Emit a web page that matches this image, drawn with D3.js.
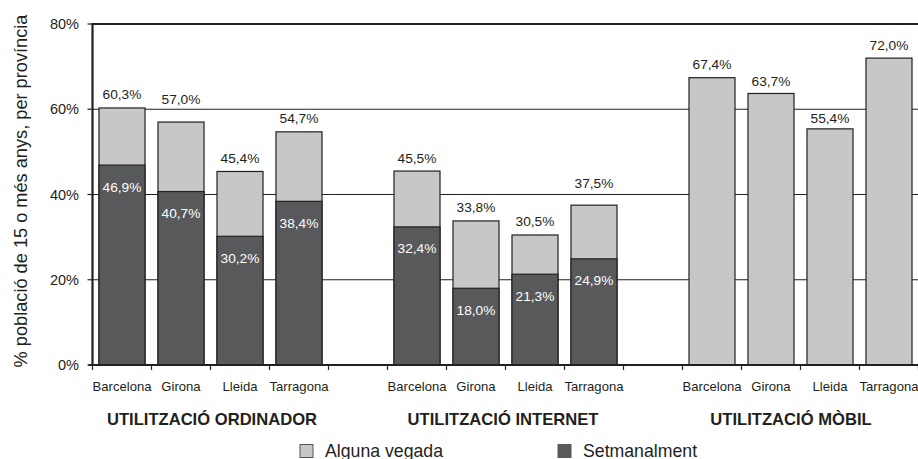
<!DOCTYPE html>
<html>
<head>
<meta charset="utf-8">
<script src="https://cdn.jsdelivr.net/npm/d3@7/dist/d3.min.js"></script>
<style>
  html, body { margin: 0; padding: 0; background: #fff; }
  svg { display: block; font-family: "Liberation Sans", Arial, Helvetica, sans-serif; }
</style>
</head>
<body>
<svg id="chart" width="918" height="459"></svg>
<script>
// ---- data ----
const provinces = ["Barcelona", "Girona", "Lleida", "Tarragona"];
const groups = ["UTILITZACIÓ ORDINADOR", "UTILITZACIÓ INTERNET", "UTILITZACIÓ MÒBIL"];
const algunaVegada = [
  [60.3, 57.0, 45.4, 54.7],   // ordinador
  [45.5, 33.8, 30.5, 37.5],   // internet
  [67.4, 63.7, 55.4, 72.0]    // mòbil
];
const setmanalment = [
  [46.9, 40.7, 30.2, 38.4],
  [32.4, 18.0, 21.3, 24.9],
  null
];
const yTicks = [0, 20, 40, 60, 80];
const yTitle = "% població de 15 o més anys, per província";
const legendLabels = ["Alguna vegada", "Setmanalment"];

// ---- layout ----
const svg = d3.select("#chart");
const pLeft = 92.5, pRight = 918.5, pTop = 24, pBottom = 365;
const LIGHT = "#c6c7c9", DARK = "#58595b", INK = "#231f20";

// slots: 4 bars, gap, 4 bars, gap, 4 bars
const slots = [];
groups.forEach((g, gi) => {
  provinces.forEach((p, pi) => slots.push({ key: gi + "-" + pi, g: gi, p: pi }));
  if (gi < groups.length - 1) slots.push({ key: "gap" + gi, gap: true });
});

const x = d3.scaleBand().domain(slots.map(s => s.key)).range([pLeft, pRight]).paddingInner(0.22).paddingOuter(0.11);
const xs = d3.scaleBand().domain(slots.map(s => s.key)).range([pLeft, pRight]);
const y = d3.scaleLinear().domain([0, 80]).range([pBottom, pTop]);

const fmt = v => d3.format(".1f")(v).replace(".", ",") + "%";

// gridlines
svg.append("g").selectAll("line").data(yTicks.filter(t => t > 0 && t < 80)).join("line")
  .attr("x1", pLeft).attr("x2", pRight)
  .attr("y1", d => y(d)).attr("y2", d => y(d))
  .attr("stroke", INK).attr("stroke-width", 1.1);

// top border
svg.append("line").attr("x1", pLeft).attr("x2", pRight).attr("y1", y(80)).attr("y2", y(80))
  .attr("stroke", INK).attr("stroke-width", 2.2);

// bars
const barData = slots.filter(s => !s.gap);
const bars = svg.append("g");
barData.forEach(s => {
  const tot = algunaVegada[s.g][s.p];
  const wk = setmanalment[s.g] ? setmanalment[s.g][s.p] : null;
  bars.append("rect")
    .attr("x", x(s.key)).attr("width", x.bandwidth())
    .attr("y", y(tot)).attr("height", y(0) - y(tot))
    .attr("fill", LIGHT).attr("stroke", INK).attr("stroke-width", 1.2);
  if (wk !== null) {
    bars.append("rect")
      .attr("x", x(s.key)).attr("width", x.bandwidth())
      .attr("y", y(wk)).attr("height", y(0) - y(wk))
      .attr("fill", DARK).attr("stroke", INK).attr("stroke-width", 1.2);
  }
});

// label lifts (layout nudges only)
const topLift = { "0-1": 10, "1-3": 9, "2-2": -3, "2-1": -1 };

barData.forEach(s => {
  const tot = algunaVegada[s.g][s.p];
  const cx = x(s.key) + x.bandwidth() / 2;
  svg.append("text").attr("x", cx).attr("y", y(tot) - 8.5 - (topLift[s.key] || 0))
    .attr("text-anchor", "middle").attr("font-size", 13.7).attr("fill", INK)
    .text(fmt(tot));
  if (setmanalment[s.g]) {
    const wk = setmanalment[s.g][s.p];
    svg.append("text").attr("x", cx).attr("y", y(wk) + 26.5)
      .attr("text-anchor", "middle").attr("font-size", 13.7).attr("fill", "#ffffff")
      .text(fmt(wk));
  }
});

// axes lines
svg.append("line").attr("x1", pLeft).attr("x2", pLeft).attr("y1", pTop - 1).attr("y2", pBottom + 1)
  .attr("stroke", INK).attr("stroke-width", 2.2);
svg.append("line").attr("x1", pLeft - 4).attr("x2", pRight).attr("y1", pBottom).attr("y2", pBottom)
  .attr("stroke", INK).attr("stroke-width", 2.2);

// y ticks
const yAxis = svg.append("g");
yTicks.forEach(t => {
  yAxis.append("line").attr("x1", pLeft - 5).attr("x2", pLeft).attr("y1", y(t)).attr("y2", y(t))
    .attr("stroke", INK).attr("stroke-width", 1.2);
  yAxis.append("text").attr("x", 79).attr("y", y(t) + 5).attr("text-anchor", "end")
    .attr("font-size", 14.5).attr("fill", INK).text(t + "%");
});

// x ticks at slot boundaries
const bounds = slots.map(s => xs(s.key)).concat([pRight]);
svg.append("g").selectAll("line").data(bounds).join("line")
  .attr("x1", d => d).attr("x2", d => d).attr("y1", pBottom).attr("y2", pBottom + 5)
  .attr("stroke", INK).attr("stroke-width", 1.2);

// x category labels
barData.forEach(s => {
  svg.append("text").attr("x", xs(s.key) + xs.bandwidth() / 2).attr("y", 391)
    .attr("text-anchor", "middle").attr("font-size", 13.1).attr("fill", INK)
    .text(provinces[s.p]);
});

// group labels
const groupNudge = [1.5, -2.5, -9.5];
groups.forEach((g, gi) => {
  const first = xs(gi + "-0"), last = xs(gi + "-3") + xs.bandwidth();
  svg.append("text").attr("x", (first + last) / 2 + groupNudge[gi]).attr("y", 425)
    .attr("text-anchor", "middle").attr("font-size", 16.6).attr("font-weight", "bold")
    .attr("fill", INK).text(g);
});

// y title
svg.append("text").attr("transform", "translate(26.5,191) rotate(-90)")
  .attr("text-anchor", "middle").attr("font-size", 18.2).attr("fill", INK)
  .text(yTitle);

// legend
const legendX = [300, 558];
const legendFill = [LIGHT, DARK];
legendLabels.forEach((l, i) => {
  svg.append("rect").attr("x", legendX[i]).attr("y", 444.5).attr("width", 13).attr("height", 13)
    .attr("fill", legendFill[i]).attr("stroke", i === 0 ? "#555" : DARK).attr("stroke-width", 1);
  svg.append("text").attr("x", legendX[i] + 25).attr("y", 456.5)
    .attr("font-size", 17.7).attr("fill", INK).text(l);
});
</script>
</body>
</html>
